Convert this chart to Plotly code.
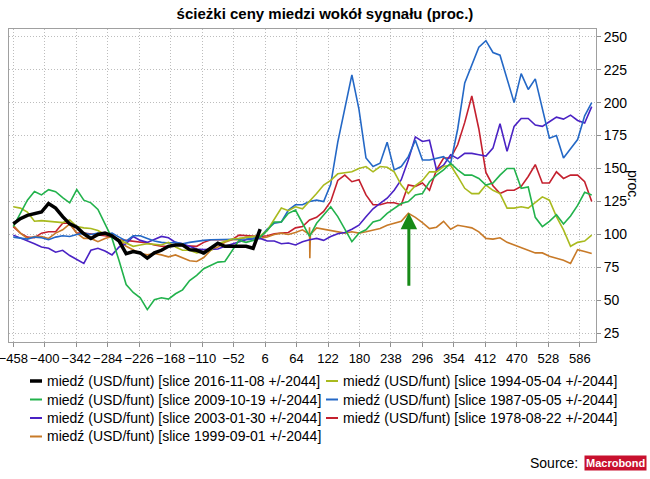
import plotly.graph_objects as go

# x positions (days around the signal), common grid for all slices
X = list(range(-458, 609, 13))

TITLE = "ścieżki ceny miedzi wokół sygnału (proc.)"
X_TICK0 = -458
X_DTICK = 58
Y_TICK0 = 25
Y_DTICK = 25

NAMES = [
    "miedź (USD/funt) [slice 2016-11-08 +/-2044]",
    "miedź (USD/funt) [slice 1994-05-04 +/-2044]",
    "miedź (USD/funt) [slice 2009-10-19 +/-2044]",
    "miedź (USD/funt) [slice 1987-05-05 +/-2044]",
    "miedź (USD/funt) [slice 2003-01-30 +/-2044]",
    "miedź (USD/funt) [slice 1978-08-22 +/-2044]",
    "miedź (USD/funt) [slice 1999-09-01 +/-2044]",
]
COLORS = ["#000000", "#a9ba1e", "#22b24c", "#2468c6", "#4a22c4", "#c4202e", "#c87a28"]

s2016 = [108, 112, 114.5, 116, 117, 123.5, 120, 113.5, 108, 105.5, 100.5, 97,
         100, 101, 99, 95, 85.5, 87, 86, 82, 86, 88, 91, 92,
         92, 88.5, 88, 86, 89.5, 93.3, 91, 91, 91, 91, 89.5, 104]

s1994 = [121, 120, 117, 110, 110.5, 110, 110, 109, 111, 106, 105, 104.5,
         103, 100, 98.5, 96, 93, 91, 92, 93, 92.5, 92, 94, 90.5,
         88, 88, 86, 87, 88, 93, 95, 96.5, 97, 97.5, 98, 99,
         103, 112, 120, 118, 121, 119.5, 125, 131, 137.5, 141, 146, 146.5,
         147.5, 150, 151.5, 147.5, 151.5, 151, 147.5, 137.5, 131, 137, 141, 147.5,
         147.5, 151.5, 152.5, 144, 135, 131, 131, 137.5, 133.5, 131, 120, 120,
         121, 120, 124, 128.5, 126, 113.5, 103.5, 91, 94, 95, 99.5]

s2009 = [106, 116, 126, 132.5, 130, 134, 132.5, 128, 124, 134, 126, 124,
         119, 108, 97, 80, 62, 56, 52, 43, 50.5, 52, 51, 55,
         58, 65, 69, 74, 76.5, 79, 79.5, 88, 95.5, 94, 95.5, 98,
         103, 109.5, 109.5, 116, 118.5, 108.5, 98.5, 108.5, 115, 121, 113.5, 103.5,
         94.5, 101, 103.5, 109.5, 111, 116, 120, 123.5, 125, 130, 131, 140,
         145, 149, 154, 149, 145, 145, 142.5, 137.5, 139, 145, 150, 150,
         135, 136, 113, 106, 110, 115, 108, 114, 122, 132, 130]

s1987 = [98, 97, 96.5, 98, 97.5, 96, 98, 99, 98.5, 100, 101, 100,
         101, 100, 101, 98, 95, 99, 99, 97, 95, 94, 93.5, 94,
         93, 94, 95, 95.5, 96, 96, 96.5, 96.5, 96, 96.5, 97, 98,
         104, 108.5, 109.5, 118.5, 122.5, 122.5, 125, 126, 125, 138, 170, 195,
         221, 195, 158, 151.5, 154, 170, 149, 151.5, 159, 171.5, 156.5, 156.5,
         158, 159, 154, 180, 215, 228, 242, 247, 238, 236, 218, 200,
         222, 210, 218, 196, 173, 175, 158, 165, 172, 190, 200]

s2003 = [99.5, 97.5, 95.5, 93, 90.5, 89.5, 86.5, 88, 84, 81, 78, 88,
         89.5, 87.5, 84.5, 90.5, 93, 98.5, 95.5, 94, 96.5, 98.5, 97.5, 94,
         93, 91, 89, 88.5, 89, 89, 91, 92.5, 94, 96, 96.5, 97,
         95, 95, 93, 93.5, 92, 94.5, 96, 97, 95.5, 98.5, 100.5, 101.5,
         104, 107, 113.5, 119.5, 123.5, 127.5, 133.5, 141.5, 156.5, 174, 170.5, 171.5,
         149, 152.5, 160.5, 157.5, 161.5, 161.5, 160.5, 159.5, 165.5, 184, 163, 182,
         188, 188, 183, 182, 185.5, 189, 187.5, 190.5, 186.5, 184.5, 197]

s1978 = [106, 101, 98, 97.5, 101, 102, 102, 108.5, 108.5, 101, 101, 100.5,
         100, 99, 98, 96, 95.5, 95, 94, 93.5, 92, 91, 91, 92,
         91.5, 91, 91, 94, 96, 96, 96, 96, 99.5, 99, 98.5, 98.5,
         99, 100.5, 101, 101.5, 105, 106, 111, 113, 117.5, 125, 141, 145,
         140, 141.5, 130, 122.5, 122.5, 124, 124, 122.5, 137.5, 136.5, 139, 133.5,
         149, 158, 158, 168, 185, 205, 180, 147, 137, 131, 133.5, 133.5,
         136.5, 144, 153, 139, 139, 147.5, 142.5, 145, 145, 140, 125]

s1999 = [107, 101, 97, 98.5, 98.5, 97, 101, 103.5, 108, 101, 97, 97,
         94.5, 97, 98.5, 96, 91, 88, 85.5, 84.5, 85.5, 84.5, 83, 84.5,
         82.5, 80, 79.5, 82.5, 88, 90.5, 94, 96, 96, 98, 98.5, 97,
         98, 100, 101, 100, 101.5, 103.5, 105.5, 105, 104, 102.5, 101.5, 101,
         102, 101, 102, 103.5, 104.5, 107, 108.5, 110, 116, 113, 109, 104.5,
         105.5, 110, 104, 107, 106, 105, 102, 97, 96.5, 97.5, 94, 92,
         90, 88.5, 86, 86, 83.5, 82, 80.5, 78, 88.5, 87, 85.5]
# one-day glitch in the 1999 slice
s1999_spike_x = [87.5, 88.5, 89.5]
s1999_spike_y = [100, 82, 100]

SERIES = [s2016, s1994, s2009, s1987, s2003, s1978, s1999]

# green arrow marking the signal point
ARROW_X = 271
ARROW_FROM = 60
ARROW_TO = 116.5

FONT = "Arial, Liberation Sans, sans-serif"

# plot area in pixels
L, R, T, B = 9, 54, 29, 137
W, H = 650, 479
PW, PH = W - L - R, H - T - B


def px(xpix):
    return (xpix - L) / PW


def py(ypix):
    return (H - B - ypix) / PH


fig = go.Figure()

draw_order = [5, 6, 4, 3, 1, 2, 0]
for i in draw_order:
    vals = SERIES[i]
    xs = X[:len(vals)]
    ys = list(vals)
    if i == 6:
        pts = sorted(list(zip(xs, ys)) + list(zip(s1999_spike_x, s1999_spike_y)))
        xs = [p[0] for p in pts]
        ys = [p[1] for p in pts]
    fig.add_trace(go.Scatter(
        x=xs, y=ys, mode="lines", name=NAMES[i], showlegend=False,
        line=dict(color=COLORS[i], width=3.5 if i == 0 else 1.6),
        hoverinfo="skip",
    ))

annotations = []
shapes = []

# custom legend (two columns)
rows_y = [381, 399.5, 418, 436.5]
cols = [(30, 42, 45), (326, 338, 341)]
for idx, name in enumerate(NAMES):
    r, c = divmod(idx, 2)
    x0, x1, xt = cols[c]
    yy = rows_y[r]
    shapes.append(dict(type="line", xref="paper", yref="paper",
                       x0=px(x0), x1=px(x1), y0=py(yy), y1=py(yy),
                       line=dict(color=COLORS[idx], width=3.5 if idx == 0 else 2)))
    annotations.append(dict(xref="paper", yref="paper", x=px(xt), y=py(yy),
                            xanchor="left", yanchor="middle", showarrow=False,
                            text=name, font=dict(family=FONT, size=14, color="#000")))

# arrow
annotations.append(dict(x=ARROW_X, y=ARROW_TO, ax=ARROW_X, ay=ARROW_FROM,
                        xref="x", yref="y", axref="x", ayref="y", text="",
                        showarrow=True, arrowhead=2, arrowsize=1.1, arrowwidth=3,
                        arrowcolor="#178a17", standoff=0))

# y axis title on the right
annotations.append(dict(xref="paper", yref="paper", x=px(633), y=py(185),
                        text="proc.", textangle=90, showarrow=False,
                        xanchor="center", yanchor="middle",
                        font=dict(family=FONT, size=14, color="#000")))

# source
annotations.append(dict(xref="paper", yref="paper", x=px(580), y=py(463),
                        text="Source:", showarrow=False, xanchor="right", yanchor="middle",
                        font=dict(family=FONT, size=14, color="#000")))
annotations.append(dict(xref="paper", yref="paper", x=px(615), y=py(463),
                        text="<b>Macrobond</b>", showarrow=False,
                        xanchor="center", yanchor="middle", bgcolor="#c8102e",
                        borderpad=1,
                        font=dict(family=FONT, size=11, color="#ffffff")))

GRID = dict(showgrid=True, gridcolor="#bdbdbd", griddash="1px,2px", gridwidth=1,
            zeroline=False, showline=True, linecolor="#a0a0a0", linewidth=1, mirror=True,
            ticks="outside", ticklen=4, tickcolor="#909090", automargin=False)

fig.update_layout(
    width=W, height=H,
    margin=dict(l=L, r=R, t=T, b=B, autoexpand=False),
    paper_bgcolor="white", plot_bgcolor="white",
    title=dict(text="<b>" + TITLE + "</b>", x=0.5, xref="container", xanchor="center",
               y=1 - 14 / H, yref="container", yanchor="middle",
               font=dict(family=FONT, size=15, color="#000")),
    showlegend=False,
    annotations=annotations,
    shapes=shapes,
    xaxis=dict(range=[-465.9, 615.9], tickmode="linear", tick0=X_TICK0, dtick=X_DTICK,
               tickangle=0, ticklabeloverflow="allow",
               tickfont=dict(family=FONT, size=13, color="#000"), **GRID),
    yaxis=dict(range=[18.43, 255.84], side="right", tickmode="linear", tick0=Y_TICK0,
               dtick=Y_DTICK,
               tickfont=dict(family=FONT, size=14, color="#000"), **GRID),
)

fig.write_html("out.html",
               config={"displayModeBar": False},
               post_script="document.body.style.margin='0px';document.body.style.padding='0px';")
